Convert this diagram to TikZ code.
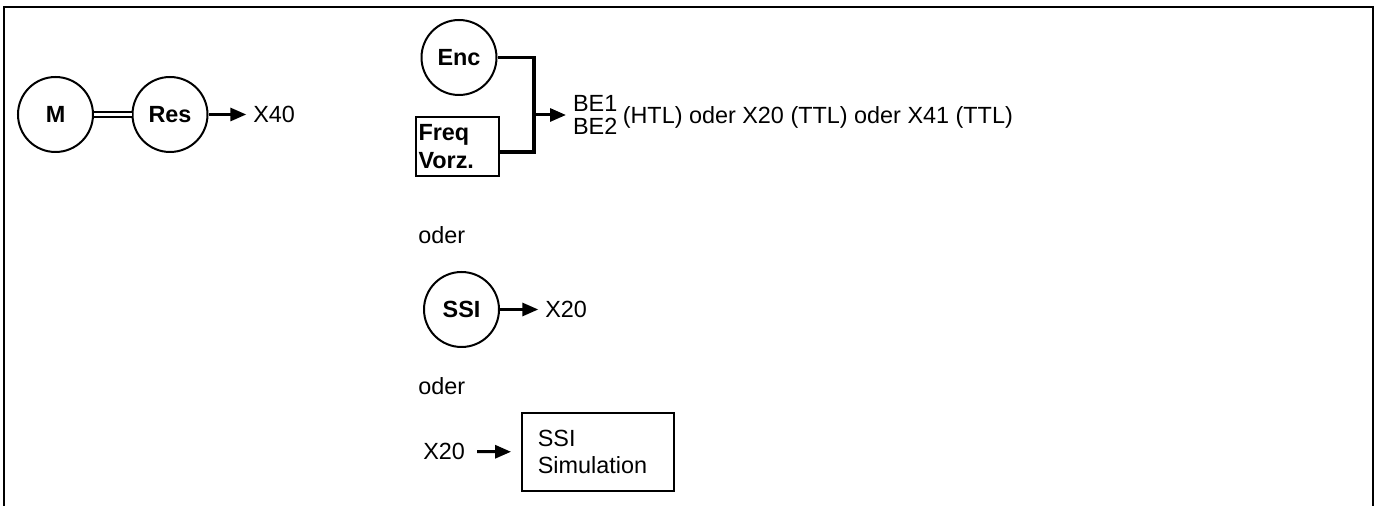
\documentclass[tikz,border=0pt]{standalone}
\usepackage{fontspec}
\setmainfont{Liberation Sans}
\usetikzlibrary{arrows.meta}

\newcommand{\grund}{\fontsize{11.7pt}{14pt}\selectfont}

\tikzset{
  geber/.style={draw, circle, line width=1pt, minimum size=37.5pt, inner sep=0pt, font=\grund\bfseries},
  kasten/.style={draw, rectangle, align=left},
  pfeil/.style={line width=1.5pt, -{Triangle[length=8pt,width=6.5pt]}},
  leitung/.style={line width=1.7pt},
}

\begin{document}
\begin{tikzpicture}[x=0.5pt, y=-0.5pt, font=\grund]
      \useasboundingbox (0,0) rectangle (1381,506);
      % Rahmen, unten offen
      \draw[line width=1pt] (3.5,506) -- (3.5,7) -- (1373,7) -- (1373,506);

      % Motor mit Resolver
      \node[geber] (m) at (55.5,114.5) {M};
      \node[geber] (res) at (170,114.5) {Res};
      \draw[double, line width=0.9pt, double distance=1.3pt] (m) -- (res);
      \node[anchor=west] (x40) at (246.3,114.5) {X40};
      \draw[pfeil] (res) -- (x40);

      % Encoder / Frequenz
      \node[geber] (enc) at (459,57.5) {Enc};
      \node[kasten, line width=1pt, font=\grund\bfseries, minimum width=41.5pt, minimum height=29.5pt,
            text width=39pt, inner xsep=1.25pt] (freq) at (457.5,146.5) {Freq\\Vorz.};
      \coordinate (knoten) at (534,115);
      \draw[leitung] (enc.east) -| (knoten) |- ([yshift=-2.75pt]freq.east);
      \node[anchor=west, align=left, font=\fontsize{11.7pt}{11.3pt}\selectfont] (be) at (566,115) {BE1\\BE2};
      \draw[pfeil] (knoten) -- (be);
      \node[anchor=west, inner xsep=0pt, xshift=-1pt] (ziel) at ([yshift=-1pt]be.east) {(HTL) oder X20 (TTL) oder X41 (TTL)};

      \node[anchor=west] (oder1) at (411.3,235) {oder};

      % SSI-Geber
      \node[geber] (ssi) at (461.5,309.5) {SSI};
      \node[anchor=west] (x20a) at (538.3,309.5) {X20};
      \draw[pfeil] (ssi) -- (x20a);

      \node[anchor=west] (oder2) at (411.3,386) {oder};

      % SSI-Simulation
      \node[kasten, line width=0.8pt, minimum width=76pt, minimum height=39pt,
            text width=60pt, inner xsep=8pt, font=\fontsize{11.7pt}{13.5pt}\selectfont] (sim) at (597.85,451.85) {SSI\\Simulation};
      \node[anchor=west] (x20b) at (416.3,451.7) {X20};
      \draw[pfeil, shorten <=2.5pt, shorten >=5pt] (x20b) -- (sim);
    \end{tikzpicture}
\end{document}
